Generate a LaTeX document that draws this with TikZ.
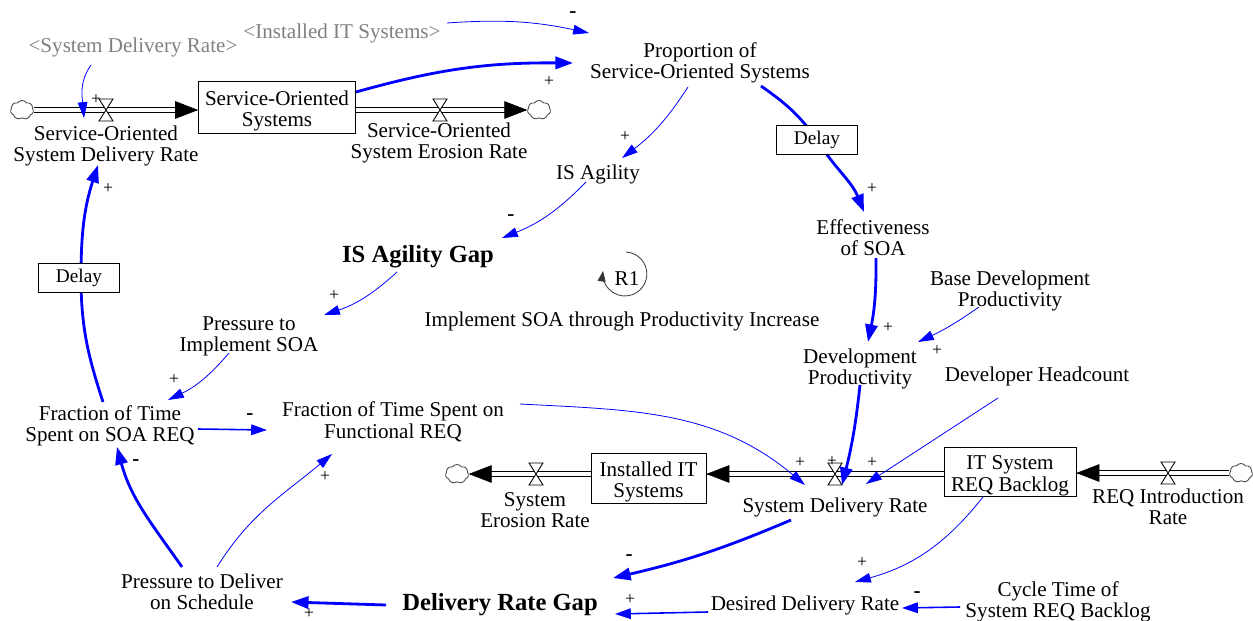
\documentclass[tikz,border=0pt]{standalone}
\usepackage{fontspec}
\setmainfont{Liberation Serif}
\usetikzlibrary{arrows.meta,shapes.symbols,calc}

% zero-width struts that set a text a little lower inside its node
\newcommand\liftlbl{\rule{0pt}{11.6pt}}
\newcommand\liftstock{\rule{0pt}{12.7pt}}

\tikzset{
  lbl/.style={font=\fontsize{12}{12.1}\selectfont, align=center, inner sep=1pt},
  onelbl/.style={lbl, execute at begin node={\rule{0pt}{11pt}}},
  keylbl/.style={font=\fontsize{14}{15}\selectfont\bfseries, inner sep=1pt,
    execute at begin node={\rule{0pt}{12.8pt}}},
  shadowlbl/.style={onelbl, text=black!50},
  stockbox/.style={draw, line width=0.5pt, fill=white, align=center,
    font=\fontsize{12}{12.1}\selectfont, inner sep=0pt},
  delaybox/.style={draw, line width=0.5pt, fill=white, font=\fontsize{11}{11}\selectfont,
    minimum width=1.62cm, minimum height=0.58cm, inner sep=0pt},
  pol/.style={font=\fontsize{10}{10}\selectfont, inner sep=0pt},
  neg/.style={font=\fontsize{12}{12}\selectfont\bfseries, inner sep=0pt},
  thinlink/.style={draw=blue, line width=0.45pt, -{Triangle[length=9pt,width=5.5pt]}},
  midlink/.style={draw=blue, line width=0.9pt, -{Triangle[length=9pt,width=6pt]}},
  thicklink/.style={draw=blue, line width=1.6pt, -{Triangle[length=10pt,width=7pt]}},
  pipe/.style={draw=black, line width=0.5pt, double=white, double distance=2.4pt, shorten >=12pt},
  flowtip/.style={draw=black, line width=0.3pt, -{Triangle[length=13pt,width=10pt]}},
  cloudsink/.style={cloud, cloud puffs=7, cloud puff arc=110, cloud ignores aspect,
    draw=black!70, line width=0.5pt, minimum width=0.46cm, minimum height=0.38cm, inner sep=0pt},
  valve/.pic={\draw[line width=0.5pt, fill=white] (-7,-11) -- (7,-11) -- (-7,11) -- (7,11) -- cycle;},
}

\begin{document}
\begin{tikzpicture}[x=0.02cm, y=-0.02cm]
\useasboundingbox (0,0) rectangle (1253,621);

% ---------- variables ----------
\node[shadowlbl] (gsdr) at (133,45) {<System Delivery Rate>};
\node[shadowlbl] (git) at (342,31) {<Installed IT Systems>};
\node[lbl] (prop) at (700,60) {\liftlbl Proportion of\\Service-Oriented Systems};
\node[stockbox, minimum width=3.14cm, minimum height=1.04cm] (sos) at (277,107) {\liftstock Service-Oriented\\Systems};
\node[lbl] (sosdr) at (106,143) {\liftlbl Service-Oriented\\System Delivery Rate};
\node[lbl] (soser) at (439,140) {\liftlbl Service-Oriented\\System Erosion Rate};
\node[onelbl] (isag) at (598,172) {IS Agility};
\node[lbl] (eff) at (873,235) {\liftlbl Effectiveness\\of SOA};
\node[keylbl] (isgap) at (418,254) {IS Agility Gap};
\node[onelbl] (r1) at (627,276) {R1};
\node[onelbl] (loopname) at (622,319) {Implement SOA through Productivity Increase};
\node[lbl] (pis) at (249,333) {\liftlbl Pressure to\\Implement SOA};
\node[lbl] (fsoa) at (110,423) {\liftlbl Fraction of Time\\Spent on SOA REQ};
\node[lbl] (ffr) at (393,419) {\liftlbl Fraction of Time Spent on\\Functional REQ};
\node[lbl] (bdp) at (1010,288) {\liftlbl Base Development\\Productivity};
\node[lbl] (dp) at (860,366) {\liftlbl Development\\Productivity};
\node[onelbl] (dh) at (1037,374) {Developer Headcount};
\node[stockbox, minimum width=2.3cm, minimum height=1.0cm] (inst) at (648.5,478) {\liftstock Installed IT\\Systems};
\node[stockbox, minimum width=2.64cm, minimum height=0.98cm] (backlog) at (1010,471.5) {\liftstock IT System\\REQ Backlog};
\node[onelbl] (sdr) at (835,505) {System Delivery Rate};
\node[lbl] (ser) at (535,507) {\liftlbl System\\Erosion Rate};
\node[lbl] (reqir) at (1168,504) {\liftlbl REQ Introduction\\Rate};
\node[keylbl] (drg) at (500,602) {Delivery Rate Gap};
\node[onelbl] (ddr) at (805,603) {Desired Delivery Rate};
\node[lbl] (ct) at (1058,599) {\liftlbl Cycle Time of\\System REQ Backlog};
\node[lbl] (ptd) at (202,589) {\liftlbl Pressure to Deliver\\on Schedule};

% ---------- valves, clouds and delay points ----------
\coordinate (v1) at (106,110);
\coordinate (v2) at (440,110);
\coordinate (v3) at (835,474);
\coordinate (v4) at (536,474);
\coordinate (v5) at (1168,473);
\coordinate (d1) at (817,140);
\coordinate (d2) at (81,277);
\node[cloudsink] (c1) at (22,110) {};
\node[cloudsink] (c2) at (539,110) {};
\node[cloudsink] (c3) at (457,474) {};
\node[cloudsink] (c4) at (1241,473) {};

% ---------- flows ----------
\draw[pipe] (c1.east |- v1) -- (sos.west |- v1);
\draw[flowtip] ($(sos.west |- v1)+(-1,0)$) -- (sos.west |- v1);
\draw[pipe] (sos.east |- v2) -- (c2.west |- v2);
\draw[flowtip] ($(c2.west |- v2)+(-1,0)$) -- (c2.west |- v2);
\draw[pipe] (backlog.west |- v3) -- (inst.east |- v3);
\draw[flowtip] ($(inst.east |- v3)+(1,0)$) -- (inst.east |- v3);
\draw[pipe] (inst.west |- v4) -- (c3.east |- v4);
\draw[flowtip] ($(c3.east |- v4)+(1,0)$) -- (c3.east |- v4);
\draw[pipe] (c4.west |- v5) -- (backlog.east |- v5);
\draw[flowtip] ($(backlog.east |- v5)+(1,0)$) -- (backlog.east |- v5);
\foreach \v in {v1,v2,v3,v4,v5} \pic at (\v) {valve};

% ---------- causal links ----------
\draw[thinlink] ([shift={(105,-8)}]git.center) to[bend left=8] ([shift={(-111,-27)}]prop.center);
\draw[thicklink] ([shift={(79,-15)}]sos.center) to[bend left=8] ([shift={(-127,3)}]prop.center);
\draw[thinlink] ([shift={(-12,27)}]prop.center) to[bend left=10] ([shift={(24,-14)}]isag.center);
\draw[thicklink] ([shift={(61,26)}]prop.center) to[out=-35,in=125] (d1) to[out=-58,in=112] ([shift={(-9,-23)}]eff.center);
\draw[thinlink] ([shift={(-12,10)}]isag.center) to[bend left=12] ([shift={(84,-16)}]isgap.center);
\draw[thinlink] ([shift={(-21,18)}]isgap.center) to[bend left=12] ([shift={(75,-18)}]pis.center);
\draw[thinlink] ([shift={(-20,20)}]pis.center) to[bend left=12] ([shift={(58,-23)}]fsoa.center);
\draw[midlink] ([shift={(88,6)}]fsoa.center) -- ([shift={(-126,11)}]ffr.center);
\draw[thicklink] ([shift={(-7,-21)}]fsoa.center) to[out=108,in=-90] (d2) to[out=90,in=-108] ([shift={(-8,22)}]sosdr.center);
\draw[thicklink] ([shift={(-20,-22)}]ptd.center) to[out=125,in=-75] ([shift={(7,24)}]fsoa.center);
\draw[thinlink] ([shift={(15,-22)}]ptd.center) to[out=58,in=-140] ([shift={(-61,35)}]ffr.center);
\draw[thicklink] ([shift={(-114,3)}]drg.center) -- ([shift={(89,13)}]ptd.center);
\draw[midlink] ([shift={(-97,9)}]ddr.center) -- ([shift={(115,12)}]drg.center);
\draw[midlink] ([shift={(-98,8)}]ct.center) -- ([shift={(97,5)}]ddr.center);
\draw[thicklink] ([shift={(-44,15)}]sdr.center) to[bend left=5] ([shift={(113,-24)}]drg.center);
\draw[thinlink] ([shift={(-27,25.5)}]backlog.center) to[bend left=18] ([shift={(50,-21)}]ddr.center);
\draw[thicklink] ([shift={(3,23)}]eff.center) to[bend left=6] ([shift={(8,-24)}]dp.center);
\draw[thinlink] ([shift={(-31,19)}]bdp.center) to[bend left=5] ([shift={(58,-24)}]dp.center);
\draw[thicklink] ([shift={(0,19)}]dp.center) to[bend left=4] ([shift={(7,11)}]v3);
\draw[thinlink] ([shift={(-39,24)}]dh.center) -- ([shift={(31,10)}]v3);
\draw[thinlink] ([shift={(127,-15)}]ffr.center) to[out=-3,in=140] ([shift={(-30,11)}]v3);
\draw[thinlink] ([shift={(-42,20)}]gsdr.center) to[out=-125,in=95] ([shift={(-22,8)}]v1);

% ---------- delays ----------
\node[delaybox] (dly1) at (d1) {Delay};
\node[delaybox] (dly2) at (79,277.5) {Delay};

% ---------- loop marker ----------
\coordinate (r1c) at (625,274);
\draw[line width=0.45pt, draw=black!80, -{Triangle[length=6pt,width=4.5pt]}]
  ($(r1c)+(1,-22)$) arc[start angle=87, end angle=-188, radius=0.44cm];

% ---------- polarities ----------
\node[pol] at (96,100) {+};
\node[neg] at (573,15) {-};
\node[pol] at (549,82) {+};
\node[pol] at (625,137) {+};
\node[pol] at (872,189) {+};
\node[neg] at (511,218) {-};
\node[pol] at (334,296) {+};
\node[pol] at (174,380) {+};
\node[neg] at (250,417) {-};
\node[pol] at (108,189) {+};
\node[pol] at (888,328) {+};
\node[pol] at (937,351) {+};
\node[pol] at (800,463) {+};
\node[pol] at (832,462) {+};
\node[pol] at (872,463) {+};
\node[neg] at (629,558) {-};
\node[pol] at (862,563) {+};
\node[neg] at (917,595) {-};
\node[pol] at (630,600) {+};
\node[pol] at (309,614) {+};
\node[neg] at (136,463) {-};
\node[pol] at (325,477) {+};
\end{tikzpicture}
\end{document}
